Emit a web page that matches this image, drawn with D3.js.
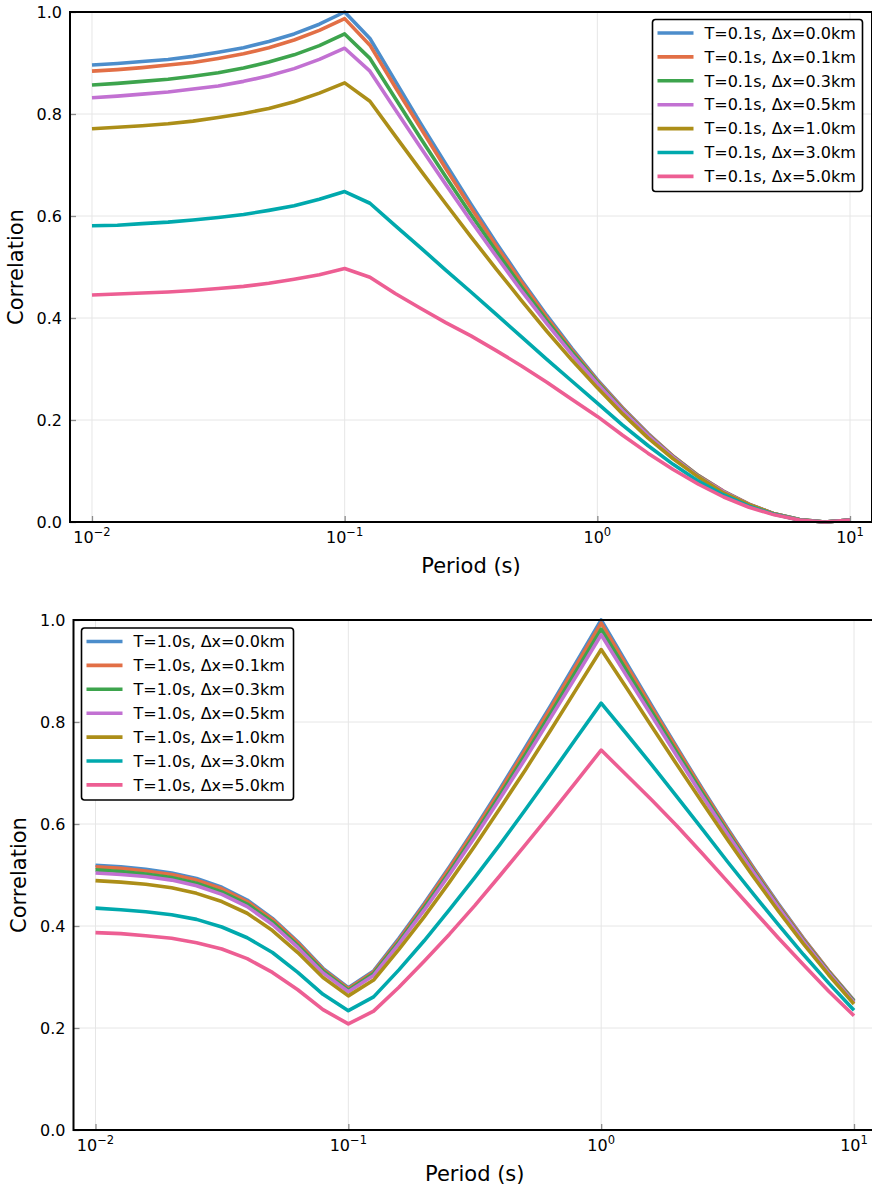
<!DOCTYPE html>
<html>
<head>
<meta charset="utf-8">
<script src="https://cdn.jsdelivr.net/npm/d3@7"></script>
<style>
  body { margin: 0; background: #fff; }
  text { font-family: "DejaVu Sans", sans-serif; fill: #000; }
</style>
</head>
<body>
<div id="chart"></div>
<script>
// periods (s), same for both panels
const periods = [0.01, 0.0126, 0.0158, 0.02, 0.0251, 0.0316, 0.0398, 0.0501, 0.0631, 0.0794,
  0.1, 0.1259, 0.1585, 0.1995, 0.2512, 0.3162, 0.3981, 0.5012, 0.631, 0.7943,
  1, 1.259, 1.585, 1.995, 2.512, 3.162, 3.981, 5.012, 6.31, 7.943, 10];

const dxNames = ["0.0", "0.1", "0.3", "0.5", "1.0", "3.0", "5.0"];
const colors = ["#4c8dcb", "#e26f46", "#3da44d", "#c271d2", "#ac8e18", "#00a9ad", "#ed5e93"];

const yTicks = [0, 0.2, 0.4, 0.6, 0.8, 1.0];
const xTicks = [0.01, 0.1, 1, 10];
const xTickExp = ["\u22122", "\u22121", "0", "1"];

// T = 0.1s
const t01_dx00 = [0.896, 0.899, 0.903, 0.907, 0.913, 0.921, 0.930, 0.942, 0.957, 0.976, 1.000, 0.948, 0.865, 0.782, 0.702, 0.623, 0.547, 0.474, 0.405, 0.340, 0.279, 0.224, 0.174, 0.129, 0.091, 0.060, 0.035, 0.016, 0.005, 0.000, 0.004];
const t01_dx01 = [0.884, 0.887, 0.891, 0.896, 0.901, 0.909, 0.918, 0.930, 0.945, 0.964, 0.987, 0.935, 0.853, 0.773, 0.693, 0.616, 0.541, 0.470, 0.401, 0.337, 0.277, 0.223, 0.173, 0.129, 0.091, 0.060, 0.035, 0.016, 0.005, 0.000, 0.004];
const t01_dx03 = [0.857, 0.860, 0.864, 0.868, 0.874, 0.881, 0.890, 0.902, 0.916, 0.934, 0.957, 0.909, 0.831, 0.753, 0.677, 0.603, 0.531, 0.461, 0.395, 0.333, 0.274, 0.220, 0.171, 0.128, 0.090, 0.059, 0.034, 0.016, 0.005, 0.000, 0.004];
const t01_dx05 = [0.832, 0.835, 0.839, 0.843, 0.849, 0.855, 0.864, 0.875, 0.889, 0.907, 0.929, 0.884, 0.809, 0.735, 0.662, 0.590, 0.521, 0.453, 0.389, 0.328, 0.271, 0.218, 0.170, 0.127, 0.089, 0.059, 0.034, 0.016, 0.004, 0.000, 0.004];
const t01_dx10 = [0.771, 0.774, 0.777, 0.781, 0.786, 0.793, 0.801, 0.811, 0.824, 0.841, 0.861, 0.825, 0.757, 0.690, 0.624, 0.559, 0.496, 0.434, 0.374, 0.317, 0.263, 0.212, 0.165, 0.124, 0.088, 0.057, 0.034, 0.016, 0.004, 0.000, 0.004];
const t01_dx30 = [0.581, 0.582, 0.585, 0.588, 0.592, 0.597, 0.603, 0.611, 0.620, 0.633, 0.648, 0.625, 0.581, 0.538, 0.494, 0.451, 0.407, 0.363, 0.319, 0.276, 0.233, 0.190, 0.150, 0.113, 0.080, 0.053, 0.031, 0.015, 0.004, 0.000, 0.004];
const t01_dx50 = [0.445, 0.447, 0.449, 0.451, 0.454, 0.458, 0.462, 0.468, 0.476, 0.485, 0.497, 0.480, 0.448, 0.419, 0.391, 0.365, 0.336, 0.306, 0.274, 0.240, 0.207, 0.170, 0.135, 0.103, 0.074, 0.049, 0.029, 0.014, 0.004, 0.000, 0.004];

// T = 1.0s
const t10_dx00 = [0.519, 0.516, 0.511, 0.504, 0.493, 0.476, 0.451, 0.415, 0.369, 0.317, 0.279, 0.312, 0.376, 0.444, 0.516, 0.591, 0.669, 0.750, 0.832, 0.916, 1.000, 0.916, 0.832, 0.750, 0.669, 0.591, 0.516, 0.444, 0.376, 0.312, 0.254];
const t10_dx01 = [0.516, 0.513, 0.508, 0.501, 0.490, 0.473, 0.448, 0.413, 0.367, 0.315, 0.277, 0.310, 0.373, 0.441, 0.513, 0.588, 0.665, 0.745, 0.827, 0.910, 0.994, 0.911, 0.828, 0.747, 0.667, 0.589, 0.514, 0.442, 0.375, 0.312, 0.253];
const t10_dx03 = [0.510, 0.507, 0.502, 0.495, 0.484, 0.467, 0.443, 0.408, 0.362, 0.312, 0.274, 0.307, 0.369, 0.436, 0.506, 0.580, 0.657, 0.736, 0.817, 0.899, 0.982, 0.901, 0.820, 0.740, 0.661, 0.584, 0.510, 0.439, 0.372, 0.310, 0.252];
const t10_dx05 = [0.504, 0.501, 0.497, 0.490, 0.479, 0.462, 0.438, 0.403, 0.358, 0.308, 0.271, 0.303, 0.365, 0.431, 0.501, 0.574, 0.650, 0.728, 0.808, 0.889, 0.971, 0.891, 0.812, 0.733, 0.655, 0.580, 0.507, 0.437, 0.370, 0.308, 0.250];
const t10_dx10 = [0.489, 0.486, 0.482, 0.475, 0.464, 0.448, 0.425, 0.391, 0.348, 0.299, 0.263, 0.294, 0.354, 0.418, 0.486, 0.557, 0.631, 0.706, 0.784, 0.863, 0.942, 0.867, 0.791, 0.716, 0.642, 0.569, 0.498, 0.430, 0.365, 0.304, 0.247];
const t10_dx30 = [0.435, 0.432, 0.428, 0.422, 0.413, 0.398, 0.377, 0.348, 0.309, 0.266, 0.234, 0.261, 0.314, 0.371, 0.432, 0.495, 0.560, 0.628, 0.697, 0.767, 0.837, 0.777, 0.716, 0.653, 0.590, 0.526, 0.464, 0.403, 0.344, 0.288, 0.235];
const t10_dx50 = [0.387, 0.385, 0.381, 0.376, 0.367, 0.355, 0.336, 0.309, 0.275, 0.236, 0.208, 0.233, 0.280, 0.331, 0.384, 0.440, 0.499, 0.559, 0.620, 0.682, 0.745, 0.696, 0.647, 0.596, 0.542, 0.487, 0.432, 0.377, 0.324, 0.272, 0.224];

const svg = d3.select("#chart")
  .append("svg")
  .attr("width", 872)
  .attr("height", 1187);

function drawPanel(p) {
  const x = d3.scaleLog()
    .domain([Math.pow(10, -2.087), Math.pow(10, 1.087)])
    .range([p.left, p.right]);
  const y = d3.scaleLinear()
    .domain([0, 1])
    .range([p.bottom, p.top]);

  const g = svg.append("g");

  // grid
  g.append("g").selectAll("line.gx")
    .data(xTicks).join("line")
    .attr("x1", d => x(d)).attr("x2", d => x(d))
    .attr("y1", p.top).attr("y2", p.bottom)
    .attr("stroke", "#e6e6e6").attr("stroke-width", 1);
  g.append("g").selectAll("line.gy")
    .data(yTicks).join("line")
    .attr("x1", p.left).attr("x2", p.right)
    .attr("y1", d => y(d)).attr("y2", d => y(d))
    .attr("stroke", "#e6e6e6").attr("stroke-width", 1);

  // lines
  const line = d3.line()
    .x((d, i) => x(periods[i]))
    .y(d => y(d));
  g.append("g").selectAll("path")
    .data(p.series).join("path")
    .attr("d", d => line(d))
    .attr("fill", "none")
    .attr("stroke", (d, i) => colors[i])
    .attr("stroke-width", 3.6)
    .attr("stroke-linejoin", "round");

  // axes: ticks inward, labels handled below
  g.append("g")
    .attr("transform", `translate(0, ${p.bottom})`)
    .call(d3.axisTop(x).tickValues(xTicks).tickSize(6).tickFormat(""))
    .call(a => a.select(".domain").remove())
    .selectAll("line").attr("stroke", "#8c8c8c").attr("stroke-width", 1.3);
  g.append("g")
    .attr("transform", `translate(${p.left}, 0)`)
    .call(d3.axisRight(y).tickValues(yTicks).tickSize(6).tickFormat(""))
    .call(a => a.select(".domain").remove())
    .selectAll("line").attr("stroke", "#8c8c8c").attr("stroke-width", 1.3);

  // frame
  g.append("rect")
    .attr("x", p.left).attr("y", p.top)
    .attr("width", p.right - p.left).attr("height", p.bottom - p.top)
    .attr("fill", "none").attr("stroke", "#000").attr("stroke-width", 2);

  // y tick labels
  g.append("g").selectAll("text")
    .data(yTicks).join("text")
    .attr("x", p.left - 8)
    .attr("y", d => y(d))
    .attr("dy", "0.36em")
    .attr("text-anchor", "end")
    .attr("font-size", "16px")
    .text(d => d.toFixed(1));

  // x tick labels 10^n
  const xl = g.append("g").selectAll("text")
    .data(xTicks).join("text")
    .attr("x", d => x(d))
    .attr("y", p.bottom + 21)
    .attr("text-anchor", "middle")
    .attr("font-size", "16px");
  xl.append("tspan").text("10");
  xl.append("tspan")
    .attr("dy", -7)
    .attr("font-size", "11.5px")
    .text((d, i) => xTickExp[i]);

  // axis titles
  g.append("text")
    .attr("x", (p.left + p.right) / 2)
    .attr("y", p.bottom + 51)
    .attr("text-anchor", "middle")
    .attr("font-size", "21px")
    .text("Period (s)");
  g.append("text")
    .attr("transform", `translate(${p.ylabX}, ${(p.top + p.bottom) / 2}) rotate(-90)`)
    .attr("text-anchor", "middle")
    .attr("font-size", "21px")
    .text("Correlation");

  // legend
  const lg = g.append("g").attr("transform", `translate(${p.legX}, ${p.legY})`);
  lg.append("rect")
    .attr("width", p.legW).attr("height", 172)
    .attr("rx", 3)
    .attr("fill", "#fff").attr("stroke", "#000").attr("stroke-width", 1.6);
  const rows = lg.selectAll("g.row")
    .data(dxNames).join("g")
    .attr("transform", (d, i) => `translate(0, ${13.5 + i * 23.9})`);
  rows.append("line")
    .attr("x1", 5).attr("x2", 41)
    .attr("stroke", (d, i) => colors[i])
    .attr("stroke-width", 3.6);
  rows.append("text")
    .attr("x", 52)
    .attr("dy", "0.36em")
    .attr("font-size", "16px")
    .text(d => `T=${p.tLabel}s, \u0394x=${d}km`);
}

drawPanel({
  left: 70, right: 872, top: 12, bottom: 522, ylabX: 23,
  series: [t01_dx00, t01_dx01, t01_dx03, t01_dx05, t01_dx10, t01_dx30, t01_dx50],
  tLabel: "0.1", legX: 652.5, legY: 19.5, legW: 210
});

drawPanel({
  left: 73.5, right: 876, top: 620, bottom: 1130, ylabX: 26,
  series: [t10_dx00, t10_dx01, t10_dx03, t10_dx05, t10_dx10, t10_dx30, t10_dx50],
  tLabel: "1.0", legX: 81.5, legY: 628, legW: 212
});
</script>
</body>
</html>
